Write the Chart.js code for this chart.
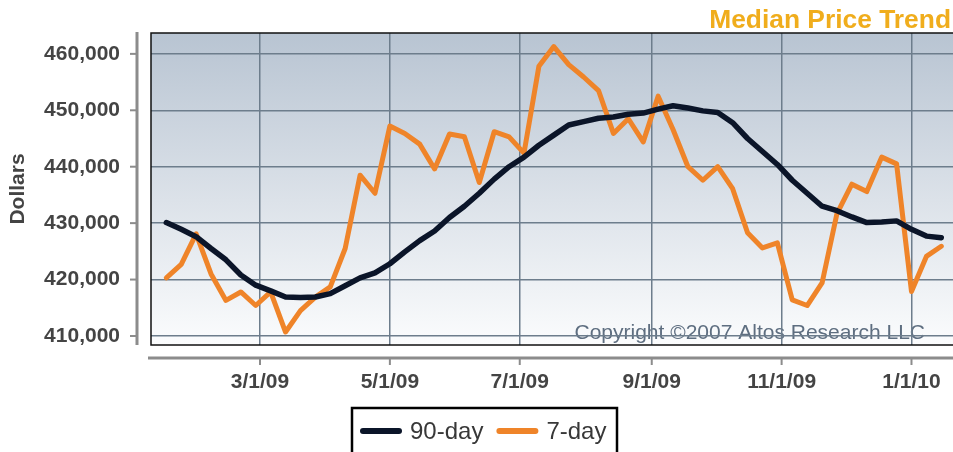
<!DOCTYPE html>
<html>
<head>
<meta charset="utf-8">
<script src="https://cdn.jsdelivr.net/npm/chart.js@4.4.1/dist/chart.umd.min.js"></script>
<style>
  html, body { margin: 0; padding: 0; background: #fff; }
  #wrap { width: 953px; height: 452px; position: relative; }
</style>
</head>
<body>
<div id="wrap"><canvas id="priceChart"></canvas></div>
<script>
// weekly sample dates
const weekDates = [
  '2009-01-16', '2009-01-23', '2009-01-30', '2009-02-06', '2009-02-13', '2009-02-20', '2009-02-27',
  '2009-03-06', '2009-03-13', '2009-03-20', '2009-03-27', '2009-04-03', '2009-04-10', '2009-04-17',
  '2009-04-24', '2009-05-01', '2009-05-08', '2009-05-15', '2009-05-22', '2009-05-29', '2009-06-05',
  '2009-06-12', '2009-06-19', '2009-06-26', '2009-07-03', '2009-07-10', '2009-07-17', '2009-07-24',
  '2009-07-31', '2009-08-07', '2009-08-14', '2009-08-21', '2009-08-28', '2009-09-04', '2009-09-11',
  '2009-09-18', '2009-09-25', '2009-10-02', '2009-10-09', '2009-10-16', '2009-10-23', '2009-10-30',
  '2009-11-06', '2009-11-13', '2009-11-20', '2009-11-27', '2009-12-04', '2009-12-11', '2009-12-18',
  '2009-12-25', '2010-01-01', '2010-01-08', '2010-01-15'
];

// 90일 이동 중앙값
const ninetyDay = [
  430100, 428900, 427600, 425500, 423500, 420800, 419000, 418000, 416900, 416800, 416900,
  417500, 418900, 420300, 421200, 422800, 424900, 426900, 428600, 431000, 433000, 435300,
  437800, 440000, 441700, 443800, 445600, 447400, 448000, 448600, 448800, 449300, 449500,
  450200, 450800, 450400, 449900, 449600, 447800, 445000, 442700, 440400, 437600, 435300,
  433000, 432200, 431100, 430100, 430200, 430400, 428900, 427700, 427400
];

// 7일 중앙값
const sevenDay = [
  420300, 422700, 428100, 421000, 416300, 417800, 415400, 417800, 410700, 414500, 416900,
  418700, 425500, 438500, 435300, 447200, 445900, 444000, 439600, 445800, 445300, 437200,
  446200, 445300, 442400, 457800, 461300, 458100, 455900, 453500, 445900, 448500, 444400,
  452500, 446600, 440000, 437600, 440000, 436100, 428300, 425600, 426500, 416400, 415400,
  419400, 431700, 436900, 435600, 441700, 440500, 417900, 424100, 425900
];

// axis ticks
const xTickDates = ['2009-03-01', '2009-05-01', '2009-07-01', '2009-09-01', '2009-11-01', '2010-01-01'];
const xTickLabels = ['3/1/09', '5/1/09', '7/1/09', '9/1/09', '11/1/09', '1/1/10'];
const yTicks = [410000, 420000, 430000, 440000, 450000, 460000];

// 날짜 -> 2009-01-01 기준 일수
function dayNum(s) {
  const p = s.split('-').map(Number);
  return (Date.UTC(p[0], p[1] - 1, p[2]) - Date.UTC(2009, 0, 1)) / 86400000;
}

const xDays = weekDates.map(dayNum);
const xTickDays = xTickDates.map(dayNum);

const AXIS_GRAY = '#8c8c8c';
const GRID = '#6d7d8c';
const LABEL = '#444444';
const SANS = '"Liberation Sans", Arial, sans-serif';

// 배경, 저작권 문구, 축선, 제목, 범례
const decor = {
  id: 'decor',
  beforeDraw(chart) {
    const { ctx, chartArea: a } = chart;
    const g = ctx.createLinearGradient(0, a.top, 0, a.bottom);
    g.addColorStop(0, '#b8c4d2');
    g.addColorStop(1, '#fbfcfd');
    ctx.save();
    ctx.fillStyle = g;
    ctx.fillRect(a.left, a.top, a.right - a.left, a.bottom - a.top);
    ctx.font = '21px ' + SANS;
    ctx.fillStyle = '#5e6e80';
    ctx.textAlign = 'right';
    ctx.textBaseline = 'alphabetic';
    ctx.fillText('Copyright \u00a92007 Altos Research LLC', 925, 339);
    ctx.restore();
  },
  afterDraw(chart) {
    const { ctx, chartArea: a, scales } = chart;
    ctx.save();
    // plot border
    ctx.strokeStyle = '#111';
    ctx.lineWidth = 1.5;
    ctx.strokeRect(a.left, a.top, a.right - a.left + 2, a.bottom - a.top);

    // detached y axis
    ctx.strokeStyle = AXIS_GRAY;
    ctx.lineWidth = 3;
    ctx.beginPath();
    ctx.moveTo(137, a.top - 1);
    ctx.lineTo(137, a.bottom);
    ctx.stroke();
    ctx.lineWidth = 2;
    yTicks.forEach(v => {
      const y = scales.y.getPixelForValue(v);
      ctx.beginPath();
      ctx.moveTo(130, y);
      ctx.lineTo(137, y);
      ctx.stroke();
    });

    // detached x axis with labels
    ctx.lineWidth = 3;
    ctx.beginPath();
    ctx.moveTo(148, 358);
    ctx.lineTo(953, 358);
    ctx.stroke();
    ctx.lineWidth = 2;
    ctx.font = 'bold 21px ' + SANS;
    ctx.fillStyle = LABEL;
    ctx.textAlign = 'center';
    ctx.textBaseline = 'middle';
    xTickDays.forEach((v, i) => {
      const x = scales.x.getPixelForValue(v);
      ctx.beginPath();
      ctx.moveTo(x, 358);
      ctx.lineTo(x, 365);
      ctx.stroke();
      ctx.fillText(xTickLabels[i], x, 382);
    });

    // title
    ctx.font = 'bold 25px ' + SANS;
    ctx.fillStyle = '#f0ad1c';
    ctx.textBaseline = 'alphabetic';
    ctx.save();
    ctx.translate(951, 28);
    ctx.scale(1.055, 1);
    ctx.textAlign = 'right';
    ctx.fillText('Median Price Trend', 0, 0);
    ctx.restore();

    // legend
    ctx.strokeStyle = '#000';
    ctx.lineWidth = 2.5;
    ctx.strokeRect(352, 408, 265, 60);
    ctx.font = '24px ' + SANS;
    ctx.textAlign = 'left';
    ctx.textBaseline = 'middle';
    let lx = 363;
    chart.data.datasets.forEach(ds => {
      ctx.strokeStyle = ds.borderColor;
      ctx.lineWidth = 6;
      ctx.lineCap = 'round';
      ctx.beginPath();
      ctx.moveTo(lx, 431);
      ctx.lineTo(lx + 36, 431);
      ctx.stroke();
      ctx.fillStyle = '#383838';
      ctx.fillText(ds.label, lx + 47, 432);
      lx += 47 + ctx.measureText(ds.label).width + 16;
    });
    ctx.restore();
  }
};

function noPad(s) {
  s.paddingTop = 0;
  s.paddingBottom = 0;
  s.paddingLeft = 0;
  s.paddingRight = 0;
}

const ctx = document.getElementById('priceChart').getContext('2d');

new Chart(ctx, {
  type: 'line',
  data: {
    datasets: [{
      label: '90-day',
      data: xDays.map((d, i) => ({ x: d, y: ninetyDay[i] })),
      borderColor: '#0b1529',
      borderWidth: 5.5,
      pointRadius: 0,
      tension: 0,
      borderJoinStyle: 'round',
      borderCapStyle: 'round',
      order: 1
    }, {
      label: '7-day',
      data: xDays.map((d, i) => ({ x: d, y: sevenDay[i] })),
      borderColor: '#ef8429',
      borderWidth: 5,
      pointRadius: 0,
      tension: 0,
      borderJoinStyle: 'round',
      borderCapStyle: 'round',
      order: 2
    }]
  },
  options: {
    responsive: true,
    maintainAspectRatio: false,
    animation: false,
    layout: { padding: { top: 33, left: 0, right: 0, bottom: 0 } },
    plugins: {
      legend: { display: false },
      tooltip: { enabled: false }
    },
    scales: {
      x: {
        type: 'linear',
        min: 7.8,
        max: 384.5,
        afterFit: s => { s.height = 107; noPad(s); },
        afterBuildTicks: s => { s.ticks = xTickDays.map(v => ({ value: v })); },
        grid: { color: GRID, lineWidth: 1.5, drawTicks: false },
        border: { display: false },
        ticks: { display: false }
      },
      y: {
        min: 408400,
        max: 463700,
        afterFit: s => { s.width = 151; noPad(s); },
        afterBuildTicks: s => { s.ticks = yTicks.map(v => ({ value: v })); },
        grid: { color: GRID, lineWidth: 1.5, drawTicks: false },
        border: { display: false },
        ticks: {
          padding: 31,
          color: LABEL,
          font: { family: SANS, size: 21, weight: 'bold' },
          callback: v => v.toLocaleString('en-US')
        },
        title: {
          display: true,
          text: 'Dollars',
          color: LABEL,
          padding: { top: 6, bottom: 0 },
          font: { family: SANS, size: 21, weight: 'bold' }
        }
      }
    }
  },
  plugins: [decor]
});
</script>
</body>
</html>
